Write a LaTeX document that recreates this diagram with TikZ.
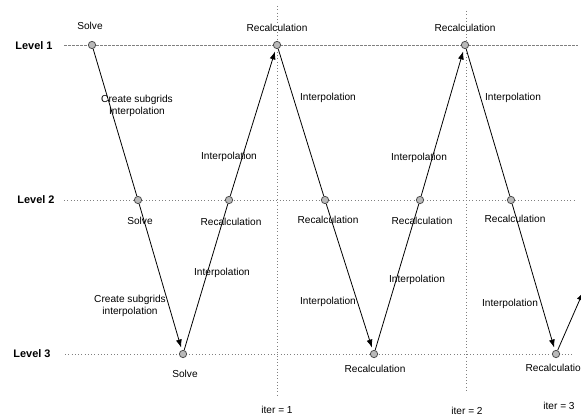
\documentclass[tikz,border=0pt]{standalone}
\usepackage{fontspec}
\setmainfont{Liberation Sans}
\usetikzlibrary{arrows.meta}

\begin{document}
\begin{tikzpicture}[x=0.75pt,y=-0.75pt]
  \tikzset{ p/.style={circle,draw=black!70,fill=gray!55,inner sep=0pt,minimum size=5.5pt,line width=0.6pt},
    t/.style={font=\fontsize{7.6}{9}\selectfont,align=center,inner sep=1pt},
    lv/.style={font=\fontsize{8.2}{10}\selectfont\bfseries,inner sep=1pt},
    a/.style={-{Latex[length=6pt,width=4.5pt]},shorten >=2pt},
    lvl/.style={gray,line width=0.45pt},
  }
  \useasboundingbox (0,0) rectangle (581,417);

  \node[lv] (L1) at (34,46) {Level 1};
  \node[lv] (L2) at (36,200) {Level 2};
  \node[lv] (L3) at (32,354) {Level 3};

  % the level lines and the iteration lines
  \coordinate (L1s) at (64,45);  \coordinate (L1e) at (578,45);
  \coordinate (L2s) at (64,200); \coordinate (L2e) at (576,200);
  \coordinate (L3s) at (65,354); \coordinate (L3e) at (572,354);
  \coordinate (V1s) at (277,6);  \coordinate (V1e) at (277,397);
  \coordinate (V2s) at (466,11); \coordinate (V2e) at (466,392);
  \draw[lvl,dash pattern=on 2pt off 1pt] (L1s) -- (L1e);
  \draw[lvl,dotted] (L2s) -- (L2e);
  \draw[lvl,dotted] (L3s) -- (L3e);
  \draw[lvl,dotted] (V1s) -- (V1e);
  \draw[lvl,dotted] (V2s) -- (V2e);

  \node[p] (1) at (92,45)   {};
  \node[p] (2) at (138,200) {};
  \node[p] (3) at (183,354) {};
  \node[p] (4) at (229,200) {};
  \node[p] (5) at (277,45)  {};
  \node[p] (6) at (325,200) {};
  \node[p] (7) at (374,354) {};
  \node[p] (8) at (420,200) {};
  \node[p] (9) at (465,45)  {};
  \node[p] (10) at (511,200) {};
  \node[p] (11) at (556,354) {};
  \coordinate (12) at (584,290);

  % the connection between the dots
  \begin{scope}[line width=0.6pt]
    \draw (1) -- (2);
    \draw[a] (2) -- (3);
    \draw (3) -- (4);
    \draw[a] (4) -- (5);
    \draw (5) -- (6);
    \draw[a] (6) -- (7);
    \draw (7) -- (8);
    \draw[a] (8) -- (9);
    \draw (9) -- (10);
    \draw[a] (10) -- (11);
    \draw[a] (11) -- (12);
  \end{scope}

  \node[t] (s1) at (90,26)   {Solve};
  \node[t] (c1) at (137,106) {Create subgrids\\Interpolation};
  \node[t] (s2) at (140,221) {Solve};
  \node[t] (c2) at (130,306) {Create subgrids\\interpolation};
  \node[t] (s3) at (185,374) {Solve};
  \node[t] (i1) at (222,273) {Interpolation};
  \node[t] (r1) at (231,222) {Recalculation};
  \node[t] (i2) at (229,157) {Interpolation};
  \node[t] (r2) at (277,28)  {Recalculation};
  \node[t] (i3) at (328,98)  {Interpolation};
  \node[t] (r3) at (328,220) {Recalculation};
  \node[t] (i4) at (328,302) {Interpolation};
  \node[t] (r4) at (375,369) {Recalculation};
  \node[t] (i5) at (417,280) {Interpolation};
  \node[t] (r5) at (422,221) {Recalculation};
  \node[t] (i6) at (419,158) {Interpolation};
  \node[t] (r6) at (465,28)  {Recalculation};
  \node[t] (i7) at (513,98)  {Interpolation};
  \node[t] (r7) at (515,219) {Recalculation};
  \node[t] (i8) at (510,304) {Interpolation};
  \node[t] (r8) at (556,368) {Recalculation};

  \node[t] (it1) at (277,410) {iter = 1};
  \node[t] (it2) at (467,411) {iter = 2};
  \node[t] (it3) at (559,406) {iter = 3};
\end{tikzpicture}
\end{document}
